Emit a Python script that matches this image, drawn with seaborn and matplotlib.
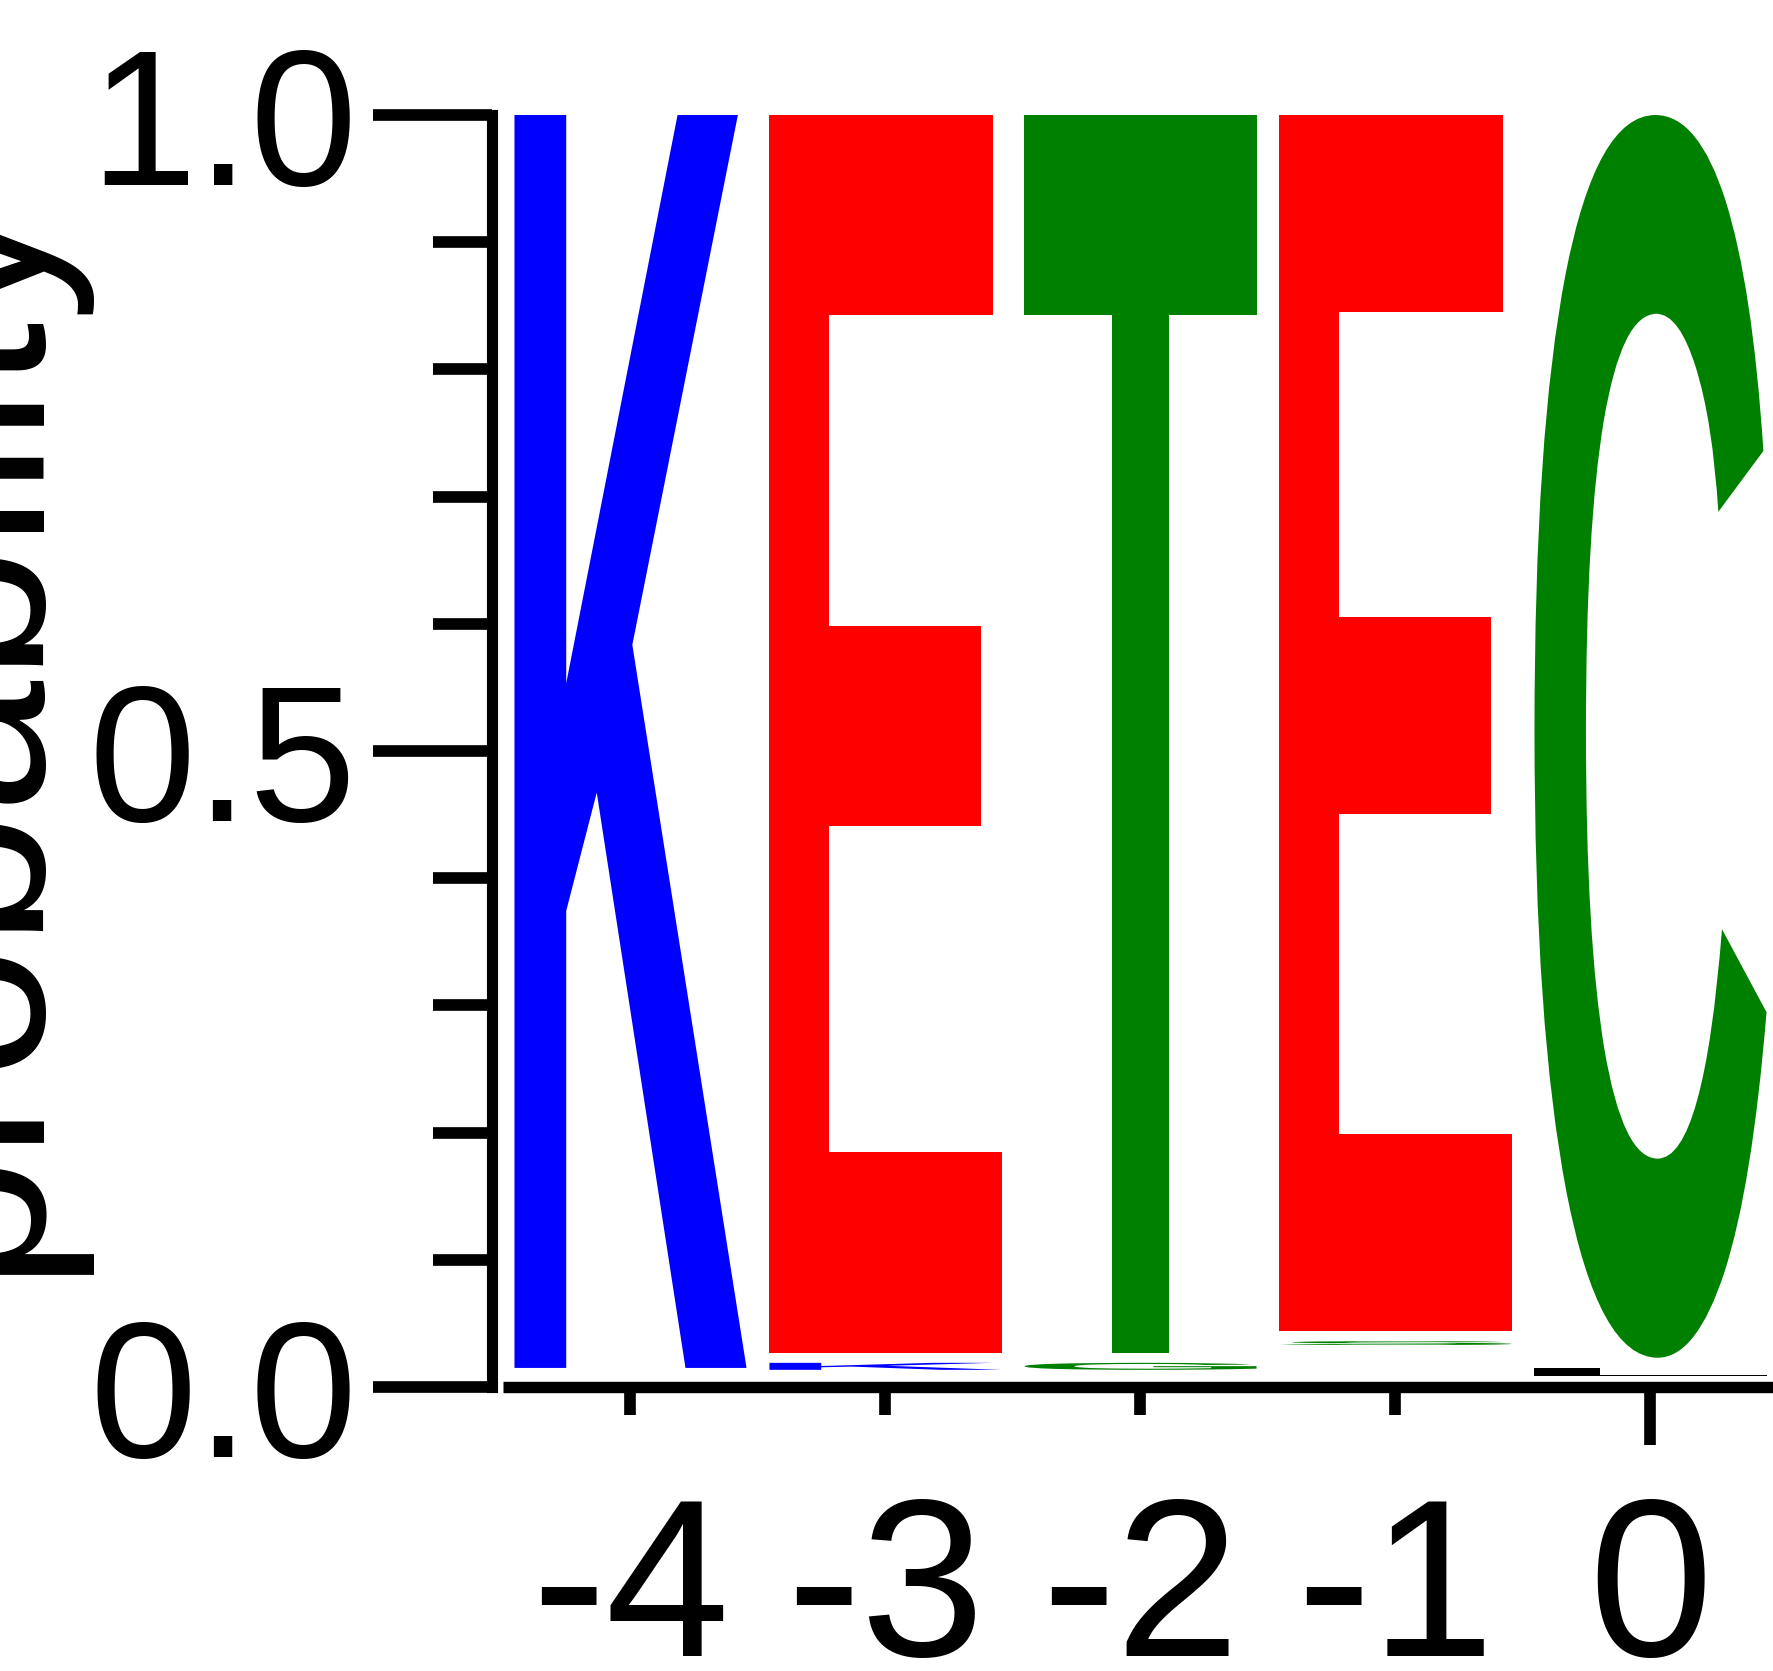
import matplotlib
matplotlib.use("Agg")
import matplotlib.pyplot as plt
import numpy as np
import pandas as pd
import seaborn as sns
from matplotlib.textpath import TextPath
from matplotlib.patches import PathPatch
from matplotlib.font_manager import FontProperties
from matplotlib.transforms import Affine2D
from matplotlib.ticker import FixedLocator, FixedFormatter, MultipleLocator

# Residue probabilities per position (dominant residue on top of each stack)
positions = [-4, -3, -2, -1, 0]
top_residues = ["K", "E", "T", "E", "C"]
top_probs = [0.985, 0.973, 0.973, 0.956, 0.977]
minor_residues = ["", "K", "G", "S", "L"]
minor_probs = [0.0, 0.0055, 0.0055, 0.003, 0.0063]

y_ticks = [0.0, 0.5, 1.0]
y_tick_labels = ["0.0", "0.5", "1.0"]
x_tick_labels = ["-4", "-3", "-2", "-1", "0"]

# chemistry colour scheme
residue_colors = {}
for aa in "KRH":
    residue_colors[aa] = "#0000FF"
for aa in "DE":
    residue_colors[aa] = "#FF0000"
for aa in "STGYC":
    residue_colors[aa] = "#008000"
for aa in "QN":
    residue_colors[aa] = "#800080"
for aa in "AVLIPWFM":
    residue_colors[aa] = "#000000"

stack_gap = 0.008
glyph_width = 0.91

sns.set_style("ticks")
plt.rcParams["font.family"] = ["Liberation Sans", "DejaVu Sans"]

# long-form table of glyph cells
rows = []
for pos, tr, tp, mr, mp in zip(positions, top_residues, top_probs,
                               minor_residues, minor_probs):
    top_bottom = 1.0 - tp
    rows.append(dict(position=pos, residue=tr, prob=tp, bottom=top_bottom))
    if mr and mp > 0:
        rows.append(dict(position=pos, residue=mr, prob=mp,
                         bottom=top_bottom - stack_gap - mp))
logo = pd.DataFrame(rows)

glyph_font = FontProperties(family="Liberation Sans", weight="bold")


def draw_glyph(ax, char, x_center, y_bottom, height, width, color):
    tp = TextPath((0, 0), char, size=1, prop=glyph_font)
    ext = tp.get_extents()
    tr = (Affine2D()
          .translate(-ext.x0, -ext.y0)
          .scale(width / ext.width, height / ext.height)
          .translate(x_center - width / 2, y_bottom))
    path = tr.transform_path(tp)
    ax.add_patch(PathPatch(path, facecolor=color, edgecolor="none", lw=0))


fig = plt.figure(figsize=(17.74, 16.71), dpi=100)
ax = fig.add_axes([503 / 1774, (1671 - 1387) / 1671, 1275 / 1774, 1272 / 1671])

for _, r in logo.iterrows():
    draw_glyph(ax, r["residue"], r["position"], r["bottom"], r["prob"],
               glyph_width, residue_colors.get(r["residue"], "#000000"))

ax.set_xlim(positions[0] - 0.5, positions[-1] + 0.5)
ax.set_ylim(0, 1)

major_pos = [p for p in positions if p % 5 == 0]
major_lab = [l for p, l in zip(positions, x_tick_labels) if p % 5 == 0]
minor_pos = [p for p in positions if p % 5 != 0]
minor_lab = [l for p, l in zip(positions, x_tick_labels) if p % 5 != 0]
ax.xaxis.set_major_locator(FixedLocator(major_pos))
ax.xaxis.set_major_formatter(FixedFormatter(major_lab))
ax.xaxis.set_minor_locator(FixedLocator(minor_pos))
ax.xaxis.set_minor_formatter(FixedFormatter(minor_lab))

ax.yaxis.set_major_locator(FixedLocator(y_ticks))
ax.yaxis.set_major_formatter(FixedFormatter(y_tick_labels))
ax.yaxis.set_minor_locator(MultipleLocator(0.1))

tick_w = 8.4
ax.tick_params(axis="x", which="major", direction="out", length=42, width=tick_w,
               pad=34, labelsize=161, colors="black")
ax.tick_params(axis="x", which="minor", direction="out", length=20, width=tick_w,
               pad=56, labelsize=161, colors="black")
ax.tick_params(axis="y", which="major", direction="out", length=86, width=tick_w,
               pad=11, labelsize=139, colors="black")
ax.tick_params(axis="y", which="minor", direction="out", length=42.5, width=tick_w,
               colors="black")

sns.despine(ax=ax, top=True, right=True)
ax.spines["left"].set_position(("outward", 8))
ax.spines["left"].set_linewidth(8.0)
ax.spines["bottom"].set_linewidth(8.2)
ax.spines["bottom"].set_capstyle("butt")
ax.spines["left"].set_color("black")
ax.spines["bottom"].set_color("black")

ylab = ax.set_ylabel("probability", fontsize=172, color="black")
ylab.set_verticalalignment("baseline")
ax.yaxis.set_label_coords((30 - 503) / 1275, 0.5165)

fig.savefig("out.png", dpi=100, facecolor="white")
